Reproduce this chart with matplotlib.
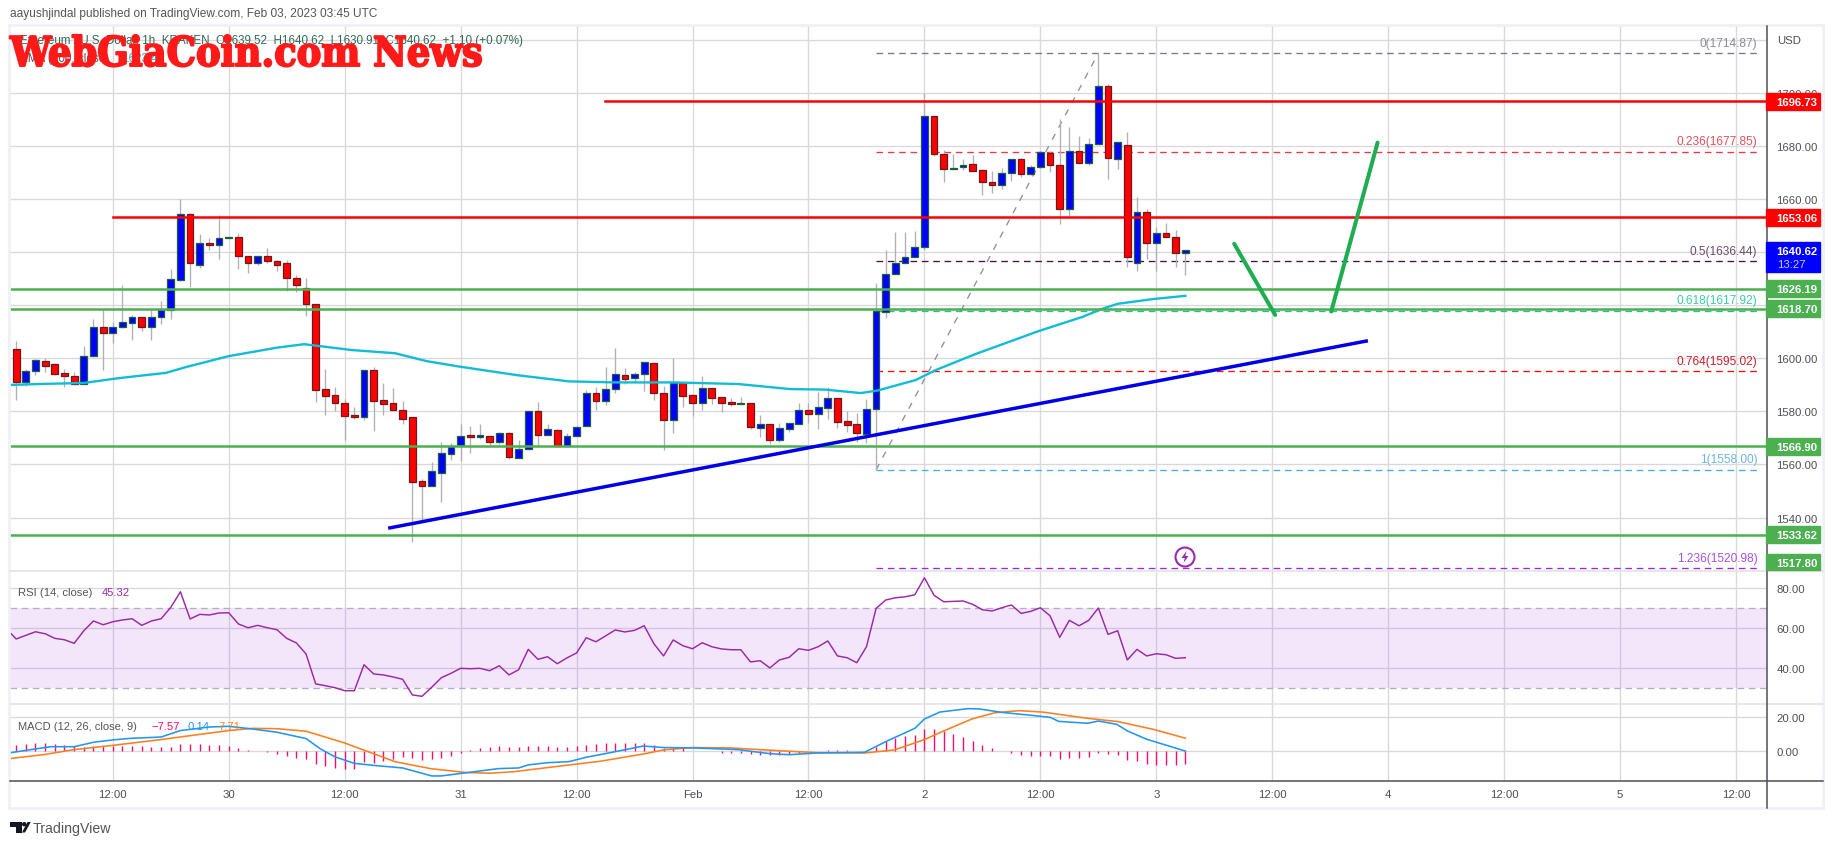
#!/usr/bin/env python3
"""ETH/USD 1h TradingView chart: candles, fib levels, RSI and MACD panes."""

import matplotlib
matplotlib.use('Agg')
import matplotlib.pyplot as plt
import matplotlib.patheffects as pe
from matplotlib.patches import Circle, Polygon, Rectangle

plt.rcParams['font.family'] = ['Liberation Sans', 'DejaVu Sans']

# candles, one per hour, first bar Jan 29 02:00
opens = [1603.4, 1591.2, 1595.1, 1598.9, 1597.7, 1594.3, 1593.2, 1590.4, 1601.0, 1611.7,
         1609.4, 1611.7, 1613.2, 1615.5, 1611.7, 1615.5, 1618.0, 1629.3, 1654.3, 1635.3,
         1643.4, 1642.5, 1645.2, 1645.7, 1638.5, 1635.7, 1638.5, 1636.6, 1635.8, 1630.2,
         1626.3, 1620.4, 1588.3, 1586.0, 1583.0, 1578.5, 1578.0, 1595.5, 1584.2, 1583.0,
         1580.4, 1577.7, 1553.6, 1552.0, 1556.9, 1564.0, 1567.4, 1571.0, 1570.4, 1570.9,
         1568.6, 1571.7, 1562.6, 1566.0, 1580.0, 1571.2, 1572.8, 1566.8, 1570.9, 1574.3,
         1586.8, 1583.8, 1588.3, 1593.6, 1592.5, 1594.2, 1598.1, 1586.8, 1576.9, 1590.6,
         1586.0, 1583.3, 1588.7, 1585.3, 1583.4, 1582.9, 1583.0, 1573.8, 1575.1, 1569.3,
         1573.5, 1575.3, 1580.4, 1579.1, 1581.4, 1584.9, 1576.2, 1575.1, 1571.6, 1581.0,
         1617.6, 1631.6, 1635.8, 1638.0, 1641.9, 1691.3, 1677.0, 1671.2, 1671.9, 1673.2,
         1670.9, 1666.4, 1665.2, 1669.7, 1675.0, 1669.3, 1672.1, 1677.4, 1672.8, 1656.1,
         1678.1, 1673.6, 1680.6, 1702.6, 1675.0, 1680.4, 1635.8, 1655.1, 1643.3, 1647.2,
         1645.7, 1639.52]
closes = [1591.2, 1595.1, 1599.2, 1597.2, 1594.2, 1593.5, 1590.4, 1600.8, 1611.7, 1609.4,
          1611.7, 1613.6, 1615.5, 1611.7, 1615.5, 1618.1, 1629.8, 1654.3, 1635.8, 1643.4,
          1642.5, 1645.3, 1645.7, 1638.4, 1635.7, 1638.5, 1636.5, 1635.3, 1630.1, 1627.4,
          1620.3, 1588.2, 1585.9, 1583.0, 1578.4, 1578.0, 1595.5, 1584.0, 1582.9, 1580.6,
          1577.2, 1553.5, 1552.0, 1557.4, 1564.2, 1566.9, 1570.9, 1570.4, 1571.0, 1568.6,
          1571.7, 1562.9, 1566.0, 1580.0, 1571.2, 1573.2, 1566.8, 1570.9, 1574.0, 1586.8,
          1583.8, 1588.3, 1594.0, 1592.3, 1594.2, 1598.5, 1587.0, 1576.9, 1590.6, 1585.9,
          1583.3, 1588.7, 1585.2, 1583.3, 1582.9, 1583.1, 1574.2, 1575.1, 1569.4, 1573.6,
          1575.5, 1580.4, 1579.1, 1581.5, 1584.9, 1576.1, 1575.0, 1571.8, 1580.8, 1617.8,
          1631.7, 1635.8, 1638.1, 1641.9, 1691.3, 1676.9, 1671.2, 1671.7, 1672.8, 1670.4,
          1666.3, 1665.2, 1669.7, 1675.0, 1669.3, 1672.1, 1677.8, 1672.8, 1656.1, 1678.0,
          1673.6, 1680.8, 1702.6, 1675.3, 1681.5, 1638.0, 1655.1, 1643.3, 1647.2, 1645.5,
          1639.5, 1640.62]
highs = [1606.5, 1596.0, 1599.8, 1600.0, 1598.2, 1596.0, 1594.7, 1604.7, 1614.8, 1618.6,
         1613.6, 1627.4, 1616.4, 1615.5, 1618.6, 1621.6, 1633.7, 1660.1, 1654.6, 1646.9,
         1645.4, 1654.1, 1645.7, 1647.2, 1638.5, 1638.5, 1641.6, 1636.9, 1637.1, 1631.5,
         1630.3, 1620.4, 1596.0, 1589.0, 1584.7, 1581.8, 1595.5, 1596.6, 1590.7, 1588.8,
         1583.9, 1577.7, 1554.5, 1561.1, 1568.3, 1567.9, 1575.2, 1574.5, 1575.2, 1570.9,
         1572.1, 1572.1, 1569.2, 1580.0, 1583.6, 1575.2, 1573.3, 1571.8, 1574.6, 1588.2,
         1589.0, 1596.6, 1603.8, 1596.4, 1594.7, 1598.5, 1598.7, 1589.4, 1600.0, 1590.6,
         1586.0, 1593.2, 1588.7, 1585.3, 1585.0, 1585.4, 1583.0, 1578.6, 1575.1, 1575.6,
         1575.5, 1583.1, 1583.1, 1587.2, 1589.0, 1584.9, 1580.0, 1579.2, 1584.7, 1628.4,
         1640.9, 1647.7, 1647.7, 1648.1, 1699.7, 1691.3, 1678.5, 1677.1, 1675.2, 1676.7,
         1671.1, 1670.6, 1671.8, 1675.0, 1675.5, 1672.9, 1678.1, 1678.0, 1690.1, 1686.9,
         1683.8, 1683.1, 1714.8, 1703.1, 1681.5, 1685.3, 1660.8, 1656.1, 1649.4, 1651.1,
         1648.4, 1640.8]
lows = [1584.4, 1589.7, 1593.7, 1595.0, 1593.7, 1589.3, 1590.4, 1590.4, 1601.0, 1595.7,
        1605.8, 1611.5, 1607.0, 1610.4, 1606.7, 1613.0, 1614.8, 1629.0, 1626.8, 1634.0,
        1640.6, 1637.5, 1645.2, 1633.7, 1632.2, 1635.0, 1636.0, 1632.7, 1625.5, 1625.0,
        1615.8, 1583.6, 1578.7, 1580.0, 1569.3, 1577.1, 1576.9, 1572.7, 1578.7, 1580.6,
        1575.2, 1530.8, 1538.7, 1552.0, 1545.9, 1561.8, 1561.4, 1564.4, 1569.6, 1566.8,
        1567.7, 1562.0, 1562.6, 1566.0, 1566.7, 1571.2, 1566.8, 1566.8, 1570.9, 1574.3,
        1580.5, 1582.4, 1587.0, 1590.4, 1590.9, 1587.8, 1584.3, 1565.5, 1571.8, 1581.8,
        1578.4, 1580.5, 1582.8, 1579.9, 1582.1, 1582.9, 1573.3, 1570.4, 1567.7, 1568.6,
        1572.2, 1575.3, 1575.8, 1573.3, 1577.1, 1573.8, 1572.3, 1568.6, 1568.0, 1558.0,
        1615.3, 1631.6, 1635.8, 1638.0, 1640.6, 1676.1, 1666.3, 1671.2, 1670.8, 1670.4,
        1661.6, 1662.1, 1663.6, 1666.9, 1668.4, 1669.0, 1671.7, 1670.2, 1650.4, 1653.6,
        1673.6, 1672.7, 1680.6, 1667.4, 1671.2, 1634.2, 1632.7, 1637.5, 1632.7, 1645.5,
        1634.2, 1631.2]

ema_bar = [-1, 2.4, 7, 10.6, 15.5, 17.6, 22, 27, 29.8, 34.7, 39.2, 42.5, 45.8, 51.9, 57.2, 62,
           68, 74.7, 80.1, 83.7, 87.4, 89.1, 93.1, 95.2, 99.3, 105.8, 110.3, 112.4, 114, 117.7, 121]
ema_val = [1589.9, 1590.3, 1590.7, 1592.5, 1594.5, 1596.7, 1600.8, 1604.0, 1605.3, 1603.1, 1601.9,
           1598.9, 1596.9, 1593.6, 1591.3, 1590.9, 1590.9, 1590.3, 1588.4, 1588.2, 1586.9, 1587.8,
           1591.8, 1595.6, 1601.6, 1610.2, 1615.5, 1618.6, 1620.5, 1622.3, 1623.5]

# first value belongs to the bar before the left edge
rsi_val = [59.7, 54.7, 56.5, 58.3, 57.3, 55.0, 54.3, 52.5, 58.8, 63.7, 61.8, 63.3, 64.2, 64.8, 61.5,
           63.7, 64.8, 70.5, 78.3, 64.7, 67.0, 66.7, 67.7, 67.8, 62.2, 60.3, 61.5, 60.3, 59.3, 55.0,
           52.7, 47.2, 32.2, 31.3, 30.3, 28.8, 28.8, 41.8, 37.2, 36.7, 35.7, 34.5, 26.7, 26.0, 30.5,
           35.3, 37.5, 40.0, 39.8, 40.0, 38.8, 41.3, 36.7, 39.3, 49.5, 44.5, 45.8, 42.3, 45.2, 47.7,
           55.3, 53.3, 56.2, 59.2, 58.2, 59.0, 61.3, 52.3, 46.2, 54.2, 51.3, 49.8, 52.8, 50.8, 49.7,
           49.3, 49.3, 43.2, 43.8, 40.2, 44.2, 45.5, 49.8, 49.0, 50.8, 53.7, 46.2, 45.3, 42.8, 50.8,
           70.0, 74.2, 75.3, 75.8, 76.8, 85.3, 76.5, 73.3, 73.5, 73.7, 72.0, 69.3, 68.7, 70.3, 71.7,
           67.5, 68.5, 70.3, 66.3, 55.5, 64.0, 61.3, 64.0, 70.2, 57.0, 58.8, 44.2, 49.5, 46.2, 47.3,
           46.8, 45.0, 45.32]

macd_hist = [3.9, 4.3, 4.9, 4.9, 4.3, 3.7, 3.3, 2.4, 2.9, 2.9, 3.3, 3.3, 3.3, 3.1, 2.4, 2.4, 2.5, 4.3,
             4.3, 4.3, 3.7, 3.5, 3.3, 2.0, 0.8, 0.2, -0.6, -1.8, -2.9, -3.9, -4.5, -7.5, -8.6, -9.6,
             -10.4, -10.4, -6.5, -6.9, -5.7, -4.7, -3.5, -4.1, -4.9, -4.5, -4.1, -2.7, -1.0, 0.6, 1.8,
             2.4, 3.1, 2.7, 2.7, 3.1, 3.1, 3.1, 2.7, 2.7, 3.3, 3.9, 4.1, 4.7, 4.9, 4.9, 5.1, 4.9, 3.7,
             2.0, 2.0, 1.8, 0.2, 0.2, 0.2, -1.0, -1.0, -1.0, -1.4, -2.2, -2.2, -2.0, -1.4, -1.0, 0.2,
             0.2, 0.8, 0.8, 0.8, 0.4, 0.4, 2.4, 6.3, 7.6, 9.0, 9.6, 13.1, 13.1, 11.8, 10.2, 8.4, 6.1,
             3.7, 2.0, 0.4, -1.0, -2.2, -2.7, -2.7, -2.7, -4.5, -3.9, -3.9, -3.3, -1.0, -1.4, -2.2,
             -5.1, -5.7, -7.5, -8.0, -8.0, -8.0, -7.57]
macd_bar = [-1, 2, 3.6, 6, 8, 10, 11.8, 15, 17, 20, 22, 24.5, 27, 30, 31.5, 33, 35, 37.2, 40, 43, 44, 46.2,
            49.9, 52, 53, 55, 57.2, 59, 60.4, 62.9, 64.9, 67, 70, 74.7, 78, 80, 82.9, 87.8, 90, 93, 94,
            95.6, 98.5, 99.7, 102, 105, 107, 107.9, 110.9, 112, 113.9, 115, 117, 121]
macd_val = [-1.2, 1.4, 2.7, 2.7, 5.3, 6.7, 7.6, 8.4, 12.2, 14.3, 14.7, 13.1, 11.2, 7.5, 1.4, -3.3, -7.1,
            -8.4, -9.8, -14.5, -14.5, -12.9, -10.2, -9.8, -8.0, -6.7, -6.1, -3.5, -2.0, 0.8, 3.1, 2.2,
            2.0, 1.0, -1.4, -2.0, -1.0, -0.6, 5.7, 13.5, 19.0, 23.1, 25.1, 24.9, 22.9, 21.2, 20.0, 17.6,
            16.5, 17.8, 15.9, 12.0, 7.1, 0.14]
signal_bar = [-1, 2.8, 6, 10, 15, 18.8, 22, 24.5, 27, 30, 33.9, 36.8, 39.2, 42.9, 46.6, 49, 51.5, 58,
              60.4, 64.9, 67, 70, 73.9, 78.8, 82.9, 87.8, 90.9, 94, 96, 98.9, 101.3, 103.8, 106.2,
              110.9, 114, 117.7, 121]
signal_val = [-4.5, -2.0, 1.0, 3.5, 6.9, 9.8, 12.2, 13.5, 13.3, 11.8, 5.1, -1.0, -6.1, -10.2, -12.5, -12.9,
              -12.0, -7.5, -5.9, -1.6, 0.8, 2.2, 2.0, 0.4, -0.8, -1.0, 0.8, 6.9, 12.0, 19.0, 22.7, 23.9,
              23.1, 19.4, 17.5, 12.9, 7.71]

time_ticks = [10, 22, 34, 46, 58, 70, 82, 94, 106, 118, 130, 142, 154, 166, 178]
time_labels = ['12:00', '30', '12:00', '31', '12:00', 'Feb', '12:00', '2', '12:00', '3',
               '12:00', '4', '12:00', '5', '12:00']
price_ticks = [1540, 1560, 1580, 1600, 1620, 1640, 1660, 1680, 1700, 1720]
rsi_ticks = [40, 60, 80]
macd_ticks = [0, 20]

fib_ratio = ['0', '0.236', '0.5', '0.618', '0.764', '1', '1.236']
fib_price = [1714.87, 1677.85, 1636.44, 1617.92, 1595.02, 1558.00, 1520.98]
fib_line = ['#787b86', '#f23645', '#4a1040', '#2bbd9a', '#f01010', '#40aee8', '#9c27e0']
fib_text = ['#8a8c94', '#e0505c', '#6b4a66', '#3ccba5', '#c8202c', '#6cb6e0', '#a94fe0']

green_levels = [1626.19, 1618.70, 1566.90, 1533.62]
red_levels = [1696.73, 1653.06]
tag_prices = [1696.73, 1653.06, 1626.19, 1618.70, 1566.90, 1533.62]
tag_colors = ['#ff0000', '#ff0000', '#4caf50', '#4caf50', '#4caf50', '#4caf50']
trend_bar = [38.5, 139.9]
trend_val = [1536.0, 1606.6]
arrow_down_bar = [126.06, 130.3]
arrow_down_val = [1643.1, 1616.3]
arrow_up_bar = [136.1, 140.9]
arrow_up_val = [1617.6, 1681.2]

W, H = 1834, 845
LEFT, RIGHT = 9.5, 1766.5
GRID = '#d9d9dc'
TICK = '#4f4f55'
XMIN, XMAX = -0.69, 181.15
FS = 8.2


def pane(top, bottom, ylim, yticks, labels):
    ax = fig.add_axes([LEFT / W, 1 - bottom / H, (RIGHT - LEFT) / W, (bottom - top) / H])
    ax.set_xlim(XMIN, XMAX)
    ax.set_ylim(*ylim)
    ax.set_xticks(time_ticks)
    ax.set_xticklabels([])
    ax.set_yticks(yticks)
    ax.set_yticklabels(labels)
    ax.yaxis.tick_right()
    ax.tick_params(length=0, labelsize=FS, labelcolor=TICK, pad=7.2)
    ax.grid(color=GRID, linewidth=0.95)
    ax.set_axisbelow(True)
    for s in ax.spines.values():
        s.set_visible(False)
    ax.patch.set_alpha(0)
    return ax


fig = plt.figure(figsize=(W / 100, H / 100), dpi=100, facecolor='white')

# price pane
ax = pane(26.5, 571.7, (1520.0, 1725.3), price_ticks,
          [f'{p:.2f}' if p != 1720 else '' for p in price_ticks])
bars = range(len(opens))
ax.vlines(bars, lows, highs, color='#b0b1b6', linewidth=0.95, zorder=3)
for i in bars:
    up = closes[i] >= opens[i]
    ax.bar(i, max(abs(closes[i] - opens[i]), 0.35), bottom=min(opens[i], closes[i]), width=0.7,
           color='#0000ff' if up else '#ff0000', edgecolor='#1f5f3a' if up else '#70181c',
           linewidth=0.9, zorder=4)

for ratio, price, lc, tc in zip(fib_ratio, fib_price, fib_line, fib_text):
    ax.plot([89, 180.6], [price, price], color=lc, linewidth=0.95, dashes=(5, 3.6), zorder=2.5)
    ax.annotate(f'{ratio}({price:.2f})', (180.2, price), xytext=(0, 3.2), textcoords='offset points',
                ha='right', va='bottom', color=tc, fontsize=8.6, annotation_clip=False)
ax.plot([89, 112], [fib_price[5], fib_price[0]], color='#8f9096', linewidth=0.95, dashes=(5, 5.5), zorder=2.5)
ax.plot(ema_bar, ema_val, color='#12bcd6', linewidth=1.7, zorder=5)
for p in green_levels:
    ax.axhline(p, color='#4caf50', linewidth=1.8, zorder=6)
ax.plot([60.9, XMAX], [red_levels[0]] * 2, color='#ff0000', linewidth=1.8, zorder=6)
ax.plot([10, XMAX], [red_levels[1]] * 2, color='#ff0000', linewidth=1.8, zorder=6)
ax.plot(trend_bar, trend_val, color='#0000e6', linewidth=2.5, solid_capstyle='butt', zorder=6)
ax.plot(arrow_down_bar, arrow_down_val, color='#1fad52', linewidth=2.9, solid_capstyle='round', zorder=6)
ax.plot(arrow_up_bar, arrow_up_val, color='#1fad52', linewidth=2.9, solid_capstyle='round', zorder=6)

# RSI pane
ax_r = pane(571.7, 705.3, (22.0, 88.85), rsi_ticks, [f'{v:.2f}' for v in rsi_ticks])
ax_r.axhspan(30, 70, color='#9c27e0', alpha=0.115, linewidth=0, zorder=1.5)
for lvl in (30, 70):
    ax_r.axhline(lvl, color='#b5aebb', linewidth=0.95, dashes=(5, 3.5), zorder=2)
ax_r.plot(range(-1, len(rsi_val) - 1), rsi_val, color='#9c27a8', linewidth=1.05, zorder=3)

# MACD pane
ax_m = pane(705.3, 782.3, (-17.65, 27.65), macd_ticks, [f'{v:.2f}' for v in macd_ticks])
ax_m.vlines(range(len(macd_hist)), 0, macd_hist, color='#ff0a6c', linewidth=1.0, zorder=3)
ax_m.plot(signal_bar, signal_val, color='#ff7f1e', linewidth=1.15, zorder=4)
ax_m.plot(macd_bar, macd_val, color='#2196f3', linewidth=1.15, zorder=5)
ax_m.set_xticklabels(time_labels)
ax_m.tick_params(axis='x', labelsize=FS, labelcolor=TICK, pad=5.5)

# overlay in pixel coords for frame, tags and header text
ov = fig.add_axes([0, 0, 1, 1], zorder=20)
ov.set_xlim(0, W)
ov.set_ylim(H, 0)
ov.axis('off')
ov.add_patch(Rectangle((9, 26), 1814, 783, fill=False, edgecolor='#eff1f7', linewidth=2))
ov.plot([LEFT, 1823], [571.7, 571.7], color='#e2e3ea', linewidth=1.2, zorder=1)
ov.plot([LEFT, 1823], [705.3, 705.3], color='#e2e3ea', linewidth=1.2, zorder=1)
ov.plot([LEFT, 1823], [782.3, 782.3], color='#4f4f55', linewidth=1.1, zorder=1)
ov.plot([RIGHT, RIGHT], [27, 809], color='#4f4f55', linewidth=1.1, zorder=1)

to_px = lambda p: 359.3 - (p - 1600) * 2.6525
for price, col in zip(tag_prices, tag_colors):
    y = to_px(price)
    ov.add_patch(Rectangle((1766, y - 8.5), 54, 17, facecolor=col, edgecolor=col, zorder=3))
    ov.text(1776.7, y + 0.5, f'{price:.2f}', color='white', fontsize=FS, fontweight='bold',
            ha='left', va='center', zorder=4)
ov.add_patch(Rectangle((1766, 554.8), 54, 16.5, facecolor='#4caf50', edgecolor='#4caf50', zorder=3))
ov.text(1776.7, 564, '1517.80', color='white', fontsize=FS, fontweight='bold', ha='left', va='center', zorder=4)
ov.add_patch(Rectangle((1766, 243), 54, 29.5, facecolor='#0000ff', edgecolor='#0000ff', zorder=3))
ov.text(1776.7, 252, '1640.62', color='white', fontsize=FS, fontweight='bold', ha='left', va='center', zorder=4)
ov.text(1776.7, 265, '13:27', color='#c8c8ff', fontsize=FS, ha='left', va='center', zorder=4)
ov.text(1776.7, 40.5, 'USD', color=TICK, fontsize=FS, ha='left', va='center')

ov.text(10, 14.5, 'aayushjindal published on TradingView.com, Feb 03, 2023 03:45 UTC',
        color='#555', fontsize=8.55, ha='left', va='center')
ov.text(20, 41, 'Ethereum / U.S. Dollar, 1h, KRAKEN  O1639.52  H1640.62  L1630.91  C1640.62  +1.10 (+0.07%)',
        color='#2f6b50', fontsize=8.4, ha='left', va='center')
ov.text(20, 59, 'EMA (100, close)', color='#555', fontsize=8.4, ha='left', va='center')
ov.text(122, 59, '1623.46', color='#12bcd6', fontsize=8.4, ha='left', va='center')
ov.text(10, 56, 'WebGiaCoin.com News', color='#ff1a1a', fontsize=29.5, family='DejaVu Serif',
        fontweight='bold', stretch='condensed', ha='left', va='center', zorder=5,
        path_effects=[pe.withStroke(linewidth=1.4, foreground='#ff1a1a')])

ov.text(18, 593.5, 'RSI (14, close)', color='#555', fontsize=8.1, ha='left', va='center')
ov.text(102, 593.5, '45.32', color='#9c27a8', fontsize=8.1, ha='left', va='center')
ov.text(18, 727.5, 'MACD (12, 26, close, 9)', color='#555', fontsize=8.0, ha='left', va='center')
ov.text(151.4, 727.5, '−7.57', color='#ff0a6c', fontsize=8.1, ha='left', va='center')
ov.text(187, 727.5, '0.14', color='#2196f3', fontsize=8.1, ha='left', va='center')
ov.text(218, 727.5, '7.71', color='#ff7f1e', fontsize=8.1, ha='left', va='center')

# lightning mark on the chart
ov.add_patch(Circle((1185, 558), 9.5, facecolor='white', edgecolor='#9c27b0', linewidth=1.5, zorder=3))
ov.add_patch(Polygon([(1186.5, 552), (1181.5, 559), (1184.8, 559), (1183.5, 564), (1188.5, 557),
                      (1185.3, 557)], facecolor='#9c27b0', edgecolor='none', zorder=4))

# TradingView logo
ov.add_patch(Polygon([(10, 823), (21.5, 823), (21.5, 833.5), (16, 833.5), (16, 827.5), (10, 827.5)],
                     facecolor='#131722', edgecolor='none'))
ov.add_patch(Circle((24.2, 825.2), 2.2, facecolor='#131722', edgecolor='none'))
ov.add_patch(Polygon([(25, 833.5), (30.8, 823), (27.5, 823), (22, 833.5)], facecolor='#131722', edgecolor='none'))
ov.text(33, 829, 'TradingView', color='#555', fontsize=10.2, ha='left', va='center')

fig.savefig('out.png', dpi=100, facecolor='white')
